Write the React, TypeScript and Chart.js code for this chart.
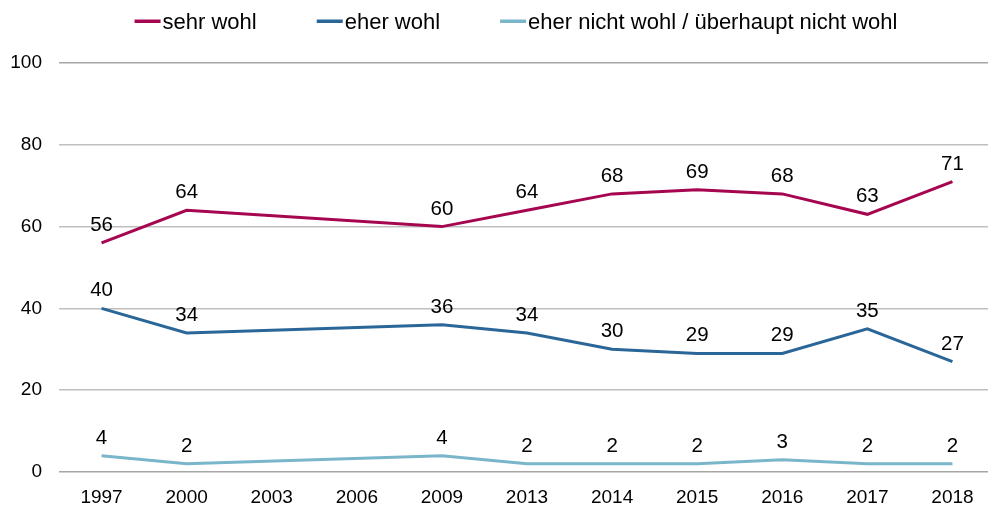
import React, { useEffect, useRef } from "react";
import { Chart, registerables } from "chart.js";

Chart.register(...registerables);

const years = ["1997", "2000", "2003", "2006", "2009", "2013", "2014", "2015", "2016", "2017", "2018"];
const sehrWohl = [56, 64, null, null, 60, 64, 68, 69, 68, 63, 71];
const eherWohl = [40, 34, null, null, 36, 34, 30, 29, 29, 35, 27];
const eherNichtWohl = [4, 2, null, null, 4, 2, 2, 2, 3, 2, 2];
const seriesNames = ["sehr wohl", "eher wohl", "eher nicht wohl / überhaupt nicht wohl"];
const seriesColors = ["#A6064F", "#2B6699", "#7AB6CA"];

const FONT = "'Liberation Sans', Arial, sans-serif";

const dataLabelPlugin = {
  id: "dataLabels",
  afterDatasetsDraw(chart: any) {
    const ctx = chart.ctx;
    ctx.save();
    ctx.font = `20.5px ${FONT}`;
    ctx.fillStyle = "#000";
    ctx.textAlign = "center";
    ctx.textBaseline = "alphabetic";
    chart.data.datasets.forEach((ds: any, i: number) => {
      const meta = chart.getDatasetMeta(i);
      meta.data.forEach((pt: any, j: number) => {
        const v = ds.data[j];
        if (v === null || v === undefined) return;
        ctx.fillText(String(v), pt.x, pt.y - 12);
      });
    });
    ctx.restore();
  },
};

const legendPlugin = {
  id: "customLegend",
  afterDraw(chart: any) {
    const ctx = chart.ctx;
    ctx.save();
    ctx.font = `22px ${FONT}`;
    ctx.textBaseline = "alphabetic";
    ctx.textAlign = "left";
    const markerW = 26;
    const gapText = 2;
    const gapItem = 60;
    const items = chart.data.datasets.map((ds: any) => ({
      label: ds.label,
      color: ds.borderColor,
      w: ctx.measureText(ds.label).width,
    }));
    let total = 0;
    items.forEach((it: any, i: number) => {
      total += markerW + gapText + it.w + (i < items.length - 1 ? gapItem : 0);
    });
    let x = 516 - total / 2;
    const baseline = 29;
    items.forEach((it: any) => {
      ctx.fillStyle = it.color;
      ctx.fillRect(x, 19.5, markerW, 3.5);
      ctx.fillStyle = "#000";
      ctx.fillText(it.label, x + markerW + gapText, baseline);
      x += markerW + gapText + it.w + gapItem;
    });
    ctx.restore();
  },
};

export default function App() {
  const ref = useRef<HTMLCanvasElement | null>(null);
  useEffect(() => {
    if (!ref.current) return;
    const mk = (i: number, data: (number | null)[]) => ({
      label: seriesNames[i],
      data,
      borderColor: seriesColors[i],
      backgroundColor: seriesColors[i],
      borderWidth: 3,
      pointRadius: 0,
      pointHoverRadius: 0,
      tension: 0,
      spanGaps: true,
      fill: false,
    });
    const chart = new Chart(ref.current, {
      type: "line",
      data: {
        labels: years,
        datasets: [mk(0, sehrWohl), mk(1, eherWohl), mk(2, eherNichtWohl)],
      },
      options: {
        responsive: false,
        animation: false,
        devicePixelRatio: 1,
        layout: { padding: { top: 63, right: 5, left: 0, bottom: 0 } },
        plugins: {
          legend: { display: false },
          tooltip: { enabled: false },
          title: { display: false },
        },
        scales: {
          x: {
            offset: true,
            grid: { display: false, drawTicks: false },
            border: { display: false },
            ticks: {
              color: "#000",
              font: { family: FONT, size: 19 },
              padding: 14,
              maxRotation: 0,
              autoSkip: false,
            },
            afterFit: (s: any) => {
              s.height = 34;
            },
          },
          y: {
            min: 0,
            max: 100,
            grid: {
              color: (c: any) => (c.tick && (c.tick.value === 0 || c.tick.value === 100) ? "#A6A6A6" : "#BFBFBF"),
              lineWidth: 1.5,
              drawTicks: false,
            },
            border: { display: false },
            ticks: {
              stepSize: 20,
              color: "#000",
              font: { family: FONT, size: 19 },
              padding: 17,
            },
            afterFit: (s: any) => {
              s.width = 59;
            },
          },
        },
      },
      plugins: [dataLabelPlugin, legendPlugin],
    });
    return () => chart.destroy();
  }, []);
  return (
    <div style={{ position: "absolute", left: 0, top: 0, width: 988, height: 506, overflow: "hidden", background: "#fff" }}>
      <canvas ref={ref} width={1000} height={506} style={{ display: "block" }} />
    </div>
  );
}
